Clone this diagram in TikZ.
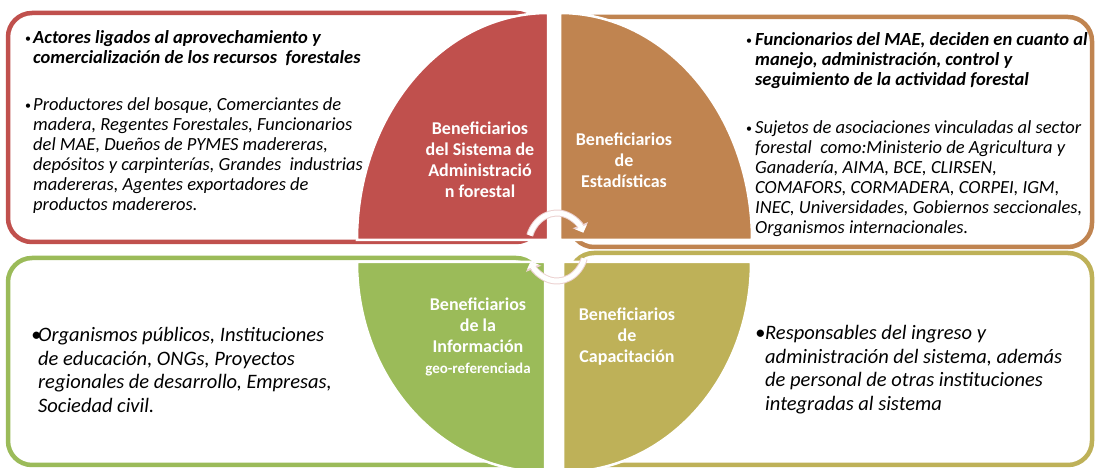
\documentclass[tikz,border=0pt]{standalone}
\usepackage{fontspec}
\setmainfont{Carlito}
\usetikzlibrary{arrows.meta}
\definecolor{redq}{RGB}{192,80,77}
\definecolor{brownq}{RGB}{192,132,80}
\definecolor{greenq}{RGB}{155,187,89}
\definecolor{oliveq}{RGB}{190,177,88}
\definecolor{pinkline}{RGB}{236,210,209}
\newcommand{\smallbul}{\raisebox{1pt}{\fontsize{12}{12}\selectfont\upshape\textbullet}}

\begin{document}
\begin{tikzpicture}[x=1pt,y=1pt,
    panel/.style={line width=4.5pt,fill=white,rounded corners=24pt},
    quad/.style={draw=white,line width=2.5pt},
    qlabel/.style={text=white,font=\fontsize{18}{21}\selectfont\bfseries,align=center,inner sep=0pt},
    smalltext/.style={font=\fontsize{18.5}{20}\selectfont\itshape,anchor=north west,inner sep=0pt},
    bigtext/.style={font=\fontsize{20.5}{23.5}\selectfont\itshape,anchor=north west,inner sep=0pt},
    cycback/.style={draw=pinkline,line width=7pt},
    cycfront/.style={draw=white,line width=5pt}]
\clip (0,0) rectangle (1096,468);
\fill[white] (0,0) rectangle (1096,468);

\draw[panel,draw=redq] (8,226) rectangle (540,455);
\draw[panel,draw=brownq] (570,221) rectangle (1092,451);
\draw[panel,draw=greenq] (8,3) rectangle (540,210);
\draw[panel,draw=oliveq] (570,3) rectangle (1092,215);

\node[smalltext] (admA) at (25,439) {\begin{tabular}{@{}p{8pt}@{}l@{}}
\smallbul & \textbf{Actores ligados al aprovechamiento y}\\
 & \textbf{comercialización de los recursos\ \ forestales}
\end{tabular}};
\node[smalltext] (admB) at (25,372) {\begin{tabular}{@{}p{8pt}@{}l@{}}
\smallbul & Productores del bosque, Comerciantes de\\
 & madera, Regentes Forestales, Funcionarios\\
 & del MAE, Dueños de PYMES madereras,\\
 & depósitos y carpinterías, Grandes\ \ industrias\\
 & madereras, Agentes exportadores de\\
 & productos madereros.
\end{tabular}};

\node[smalltext] (estA) at (746,437) {\begin{tabular}{@{}p{9pt}@{}l@{}}
\smallbul & \textbf{Funcionarios del MAE, deciden en cuanto al}\\
 & \textbf{manejo, administración, control y}\\
 & \textbf{seguimiento de la actividad forestal}
\end{tabular}};
\node[smalltext] (estB) at (746,349) {\begin{tabular}{@{}p{9pt}@{}l@{}}
\smallbul & Sujetos de asociaciones vinculadas al sector\\
 & forestal\ \ como:Ministerio de Agricultura y\\
 & Ganadería, AIMA, BCE, CLIRSEN,\\
 & COMAFORS, CORMADERA, CORPEI, IGM,\\
 & INEC, Universidades, Gobiernos seccionales,\\
 & Organismos internacionales.
\end{tabular}};

\node[bigtext] (infA) at (31,143) {\begin{tabular}{@{}p{7pt}@{}l@{}}
\textbullet & Organismos públicos, Instituciones\\
 & de educación, ONGs, Proyectos\\
 & regionales de desarrollo, Empresas,\\
 & Sociedad civil.
\end{tabular}};

\node[bigtext] (capA) at (755,145) {\begin{tabular}{@{}p{10pt}@{}l@{}}
\textbullet & Responsables del ingreso y\\
 & administración del sistema, además\\
 & de personal de otras instituciones\\
 & integradas al sistema
\end{tabular}};

\filldraw[quad,fill=redq] (548,228) -- (548,455) arc[start angle=90,end angle=180,x radius=191,y radius=227] -- cycle;
\filldraw[quad,fill=brownq] (560,228) -- (560,455) arc[start angle=90,end angle=0,x radius=192,y radius=227] -- cycle;
\filldraw[quad,fill=greenq] (545,206) -- (357,206) arc[start angle=180,end angle=270,x radius=188,y radius=210] -- cycle;
\filldraw[quad,fill=oliveq] (563,206) -- (751,206) arc[start angle=0,end angle=-90,x radius=188,y radius=210] -- cycle;

\node[qlabel] (adm) at (480,308) {Beneficiarios\\del Sistema de\\Administració\\n forestal};
\node[qlabel] (est) at (624,308) {Beneficiarios\\de\\Estadísticas};
\node[qlabel] (inf) at (478,131) {Beneficiarios\\de la\\Información\\{\fontsize{15}{18}\selectfont geo-referenciada}};
\node[qlabel] (cap) at (627,131) {Beneficiarios\\de\\Capacitación};

\coordinate (hub) at (557,221);
\draw[cycback,-{Triangle[length=8pt,width=16pt]}] ([shift={(160:29 and 34)}]hub) arc[start angle=160,end angle=25,x radius=29,y radius=34];
\draw[cycfront,-{Triangle[length=6pt,width=12pt]}] ([shift={(160:29 and 34)}]hub) arc[start angle=160,end angle=25,x radius=29,y radius=34];
\draw[cycback,-{Triangle[length=8pt,width=16pt]}] ([shift={(-20:29 and 34)}]hub) arc[start angle=-20,end angle=-155,x radius=29,y radius=34];
\draw[cycfront,-{Triangle[length=6pt,width=12pt]}] ([shift={(-20:29 and 34)}]hub) arc[start angle=-20,end angle=-155,x radius=29,y radius=34];
\end{tikzpicture}
\end{document}
